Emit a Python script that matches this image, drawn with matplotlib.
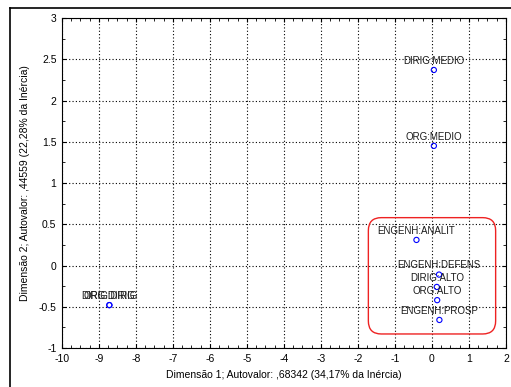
import matplotlib
matplotlib.use("Agg")
import matplotlib.pyplot as plt
from matplotlib.patches import FancyBboxPatch
from matplotlib.lines import Line2D
from matplotlib.ticker import MultipleLocator, AutoMinorLocator, FormatStrFormatter

plt.rcParams['font.family'] = ['Liberation Sans', 'DejaVu Sans']
plt.rcParams['axes.unicode_minus'] = False

# coordenadas das categorias nas duas primeiras dimensoes
labels = ['DIRIG:MEDIO', 'ORG:MEDIO', 'ENGENH:ANALIT', 'ENGENH:DEFENS',
          'DIRIG:ALTO', 'ORG:ALTO', 'ENGENH:PROSP', 'DIRIG:DIRIG', 'ORG:DIRIG']
dim1 = [0.05, 0.05, -0.42, 0.19, 0.13, 0.14, 0.20, -8.72, -8.72]
dim2 = [2.37, 1.45, 0.31, -0.11, -0.26, -0.42, -0.66, -0.48, -0.48]

# grupo destacado (limites em coordenadas dos dados)
box_x = [-1.72, 1.72]
box_y = [-0.83, 0.58]

fig = plt.figure(figsize=(5.11, 3.87), dpi=100)
ax = fig.add_axes([62 / 511, 1 - 348 / 387, 444 / 511, 330 / 387])

ax.scatter(dim1, dim2, s=14, facecolors='none', edgecolors='blue', linewidths=0.8, zorder=3)
for lab, x, y in zip(labels, dim1, dim2):
    ax.annotate(lab, (x, y), xytext=(0, 3), textcoords='offset points',
                ha='center', va='bottom', fontsize=7, color='#1a1a1a', zorder=4)

ax.xaxis.set_major_locator(MultipleLocator(1))
ax.yaxis.set_major_locator(MultipleLocator(0.5))
ax.xaxis.set_minor_locator(AutoMinorLocator(4))
ax.yaxis.set_minor_locator(AutoMinorLocator(2))
ax.yaxis.set_major_formatter(FormatStrFormatter('%g'))
ax.set_xlim(-10, 2)
ax.set_ylim(-1, 3)
ax.tick_params(which='both', direction='in', top=True, right=True, labelsize=7.5, pad=4)
ax.tick_params(which='major', length=3)
ax.tick_params(which='minor', length=2)
ax.grid(True, which='major', color='black', linestyle=(0, (1, 2)), linewidth=0.8)
for s in ax.spines.values():
    s.set_linewidth(0.8)

ax.set_xlabel('Dimensão 1; Autovalor: ,68342 (34,17% da Inércia)', fontsize=7.5, labelpad=5)
ax.set_ylabel('Dimensão 2; Autovalor: ,44559 (22,28% da Inércia)', fontsize=7.5, labelpad=6)

box = FancyBboxPatch((box_x[0], box_y[0]), box_x[1] - box_x[0], box_y[1] - box_y[0],
                     boxstyle='round,pad=0,rounding_size=0.35', mutation_aspect=0.45,
                     facecolor='none', edgecolor='#ee2222', linewidth=1.0, zorder=5)
ax.add_patch(box)

# moldura da figura
fig.add_artist(Line2D([10 / 511, 10 / 511], [0, 1 - 8 / 387], color='black', lw=1.2))
fig.add_artist(Line2D([10 / 511, 1], [1 - 8 / 387, 1 - 8 / 387], color='black', lw=1.2))

fig.savefig('out.png', dpi=100)
